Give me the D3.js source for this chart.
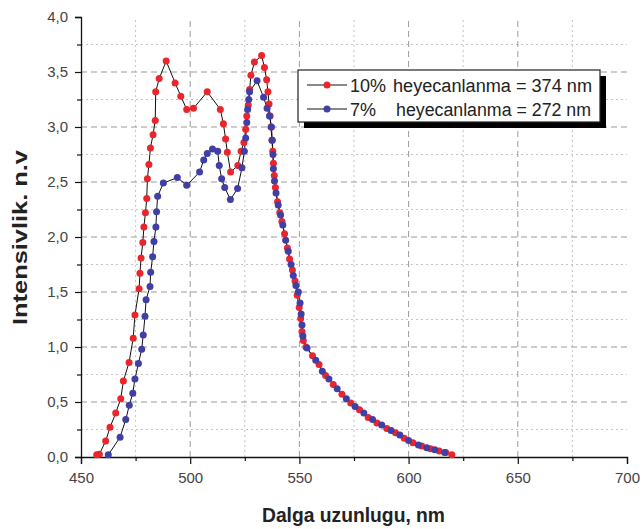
<!DOCTYPE html>
<html><head><meta charset="utf-8">
<script src="https://cdn.jsdelivr.net/npm/d3@7"></script>
<style>
body{margin:0;background:#fff;}
svg{display:block;font-family:"Liberation Sans",Arial,sans-serif;}
</style></head>
<body>
<svg id="c" width="643" height="529"></svg>
<script>
// ---- data ----
const xTicks = [450, 500, 550, 600, 650, 700];
const yTicks = [0, 0.5, 1, 1.5, 2, 2.5, 3, 3.5, 4];
const seriesLabels = ["10%", "7%"];
const seriesTexts = ["heyecanlanma = 374 nm", "heyecanlanma = 272 nm"];
const red10 = [[457.2,0.02],[458.4,0.025],[461.3,0.145],[463.3,0.27],[465.9,0.40],[468.2,0.53],[469.4,0.69],[472.0,0.86],[473.9,1.08],[474.7,1.29],[476.6,1.53],[477.0,1.67],[477.5,1.81],[478.3,1.95],[478.8,2.09],[479.5,2.22],[480.1,2.35],[480.4,2.53],[481.1,2.66],[481.8,2.81],[483.0,2.93],[484.0,3.06],[484.2,3.32],[485.8,3.44],[489.0,3.60],[493.1,3.40],[495.7,3.28],[498.4,3.16],[501.5,3.17],[507.8,3.32],[513.8,3.16],[515.2,3.03],[516.2,2.89],[517.0,2.77],[518.5,2.59],[521.8,2.65],[523.3,2.78],[524.6,2.86],[525.4,2.98],[525.9,3.10],[526.6,3.20],[527.2,3.34],[527.8,3.47],[529.4,3.59],[532.7,3.65],[534.0,3.54],[535.0,3.43],[535.6,3.32],[536.1,3.21],[536.6,3.10],[537.0,3.00],[537.4,2.88],[537.8,2.78],[538.1,2.67],[538.5,2.56],[539.0,2.45],[540.0,2.32],[541.0,2.22],[542.0,2.14],[543.2,2.03],[544.5,1.90],[545.5,1.80],[546.8,1.70],[548.0,1.60],[549.0,1.47],[549.9,1.36],[550.6,1.26],[551.2,1.14],[551.8,1.06],[553.0,1.00],[556.0,0.92],[559.0,0.84],[562.0,0.74],[565.5,0.66],[569.5,0.57],[573.5,0.49],[577.5,0.43],[581.5,0.36],[585.5,0.31],[590.0,0.26],[594.0,0.22],[598.0,0.17],[602.0,0.13],[606.0,0.10],[610.0,0.075],[614.0,0.055],[617.0,0.04],[619.8,0.02]];
const blue7 = [[462.5,0.02],[467.9,0.18],[470.5,0.34],[472.1,0.47],[473.7,0.58],[474.7,0.71],[476.3,0.85],[477.8,0.98],[478.5,1.11],[479.3,1.28],[479.8,1.43],[481.6,1.55],[481.9,1.68],[482.8,1.82],[483.4,1.96],[484.3,2.09],[484.6,2.23],[485.1,2.37],[487.7,2.49],[494.1,2.54],[498.4,2.47],[504.3,2.59],[506.2,2.70],[507.8,2.76],[510.2,2.80],[512.6,2.78],[513.3,2.65],[514.4,2.53],[515.8,2.45],[518.4,2.34],[521.7,2.44],[523.7,2.63],[524.8,2.78],[525.4,2.90],[525.9,3.04],[526.3,3.16],[526.8,3.25],[527.2,3.32],[530.6,3.42],[533.6,3.27],[535.2,3.17],[536.3,3.10],[537.2,3.00],[537.6,2.88],[537.9,2.75],[538.1,2.62],[538.6,2.51],[539.3,2.40],[540.3,2.29],[541.4,2.20],[542.4,2.11],[543.7,1.97],[544.9,1.87],[546.2,1.75],[547.2,1.65],[548.4,1.56],[549.5,1.50],[550.3,1.40],[550.8,1.30],[551.2,1.20],[551.6,1.10],[553.5,0.99],[557.5,0.88],[560.5,0.78],[563.5,0.71],[567.3,0.62],[571.5,0.53],[575.5,0.46],[579.5,0.40],[583.5,0.34],[587.7,0.29],[592.0,0.24],[596.0,0.20],[600.0,0.15],[604.5,0.11],[608.3,0.085],[612.0,0.065],[616.5,0.04]];

// ---- layout ----
const L = 81, R = 627, T = 17, B = 457;
const svg = d3.select("#c");
const x = d3.scaleLinear().domain([450, 700]).range([L, R]);
const y = d3.scaleLinear().domain([0, 4]).range([B, T]);
const fmt = d => d3.format(".1f")(d).replace(".", ",");

// grid
const g = svg.append("g");
const minorX = d3.range(475, 700, 50);
const minorY = d3.range(0.25, 4, 0.5);
g.selectAll(".mx").data(minorX).enter().append("line")
  .attr("x1", d => x(d)).attr("x2", d => x(d)).attr("y1", B).attr("y2", T)
  .attr("stroke", "#c4c4c4").attr("stroke-width", 1).attr("stroke-dasharray", "2,3");
g.selectAll(".my").data(minorY).enter().append("line")
  .attr("y1", d => y(d)).attr("y2", d => y(d)).attr("x1", L).attr("x2", R)
  .attr("stroke", "#c4c4c4").attr("stroke-width", 1).attr("stroke-dasharray", "2,3");
g.selectAll(".Mx").data(xTicks.filter(d => d > 450 && d < 700)).enter().append("line")
  .attr("x1", d => x(d)).attr("x2", d => x(d)).attr("y1", B).attr("y2", T)
  .attr("stroke", "#9a9a9a").attr("stroke-width", 1).attr("stroke-dasharray", "6,4");
g.selectAll(".My").data(yTicks.filter(d => d > 0 && d < 4)).enter().append("line")
  .attr("y1", d => y(d)).attr("y2", d => y(d)).attr("x1", L).attr("x2", R)
  .attr("stroke", "#9a9a9a").attr("stroke-width", 1).attr("stroke-dasharray", "6,4");

// axes
const xAxis = svg.append("g").attr("transform", `translate(0,${B})`)
  .call(d3.axisBottom(x).tickValues(xTicks).tickSize(7).tickPadding(8).tickFormat(d3.format("d")));
const xMinor = svg.append("g").attr("transform", `translate(0,${B})`)
  .call(d3.axisBottom(x).tickValues(d3.range(475, 700, 50)).tickSize(4).tickFormat(""));
const yAxis = svg.append("g").attr("transform", `translate(${L},0)`)
  .call(d3.axisLeft(y).tickValues(yTicks).tickSize(6).tickPadding(7).tickFormat(fmt));
const yMinor = svg.append("g").attr("transform", `translate(${L},0)`)
  .call(d3.axisLeft(y).tickValues(d3.range(0.25, 4, 0.5)).tickSize(4).tickFormat(""));
[xAxis, xMinor, yAxis, yMinor].forEach(a => {
  a.select(".domain").attr("stroke", "#111").attr("stroke-width", 1.3);
  a.selectAll(".tick line").attr("stroke", "#111").attr("stroke-width", 1.2);
  a.selectAll("text").attr("font-size", 15).attr("fill", "#444")
    .attr("font-family", "'Liberation Sans', Arial, sans-serif");
});
xMinor.select(".domain").remove(); yMinor.select(".domain").remove();

// titles
svg.append("text").attr("x", 262).attr("y", 522)
  .attr("font-weight", "bold").attr("font-size", 19.5).attr("fill", "#222")
  .attr("textLength", 183).attr("lengthAdjust", "spacingAndGlyphs")
  .text("Dalga uzunlugu, nm");
svg.append("text").attr("transform", "translate(27,325) rotate(-90)")
  .attr("font-weight", "bold").attr("font-size", 19.5).attr("fill", "#222")
  .attr("textLength", 175).attr("lengthAdjust", "spacingAndGlyphs")
  .text("Intensivlik. n.v");

// series
const line = d3.line().x(d => x(d[0])).y(d => y(d[1]));
const series = [{data: red10, color: "#e8262c"}, {data: blue7, color: "#3f3fa6"}];
series.forEach(s => {
  svg.append("path").datum(s.data).attr("d", line).attr("fill", "none")
    .attr("stroke", "#111").attr("stroke-width", 1);
});
series.forEach(s => {
  svg.append("g").selectAll("circle").data(s.data).enter().append("circle")
    .attr("cx", d => x(d[0])).attr("cy", d => y(d[1])).attr("r", 3.5)
    .attr("fill", s.color);
});

// legend
const lg = svg.append("g");
lg.append("rect").attr("x", 304).attr("y", 76).attr("width", 302).attr("height", 52).attr("fill", "#000");
lg.append("rect").attr("x", 298).attr("y", 70).attr("width", 302).attr("height", 52)
  .attr("fill", "#fff").attr("stroke", "#222").attr("stroke-width", 1.2);
seriesLabels.forEach((lab, i) => {
  const yy = 85 + i * 24;
  lg.append("line").attr("x1", 307).attr("x2", 347).attr("y1", yy).attr("y2", yy)
    .attr("stroke", "#111").attr("stroke-width", 1);
  lg.append("circle").attr("cx", 327).attr("cy", yy).attr("r", 3.5).attr("fill", series[i].color);
  lg.append("text").attr("x", 350).attr("y", yy + 7).attr("font-size", 18).attr("fill", "#222")
    .text(lab);
  lg.append("text").attr("x", i === 0 ? 393 : 396).attr("y", yy + 7).attr("font-size", 18).attr("fill", "#222")
    .attr("textLength", i === 0 ? 199 : 195).attr("lengthAdjust", "spacingAndGlyphs")
    .text(seriesTexts[i]);
});
</script>
</body></html>
